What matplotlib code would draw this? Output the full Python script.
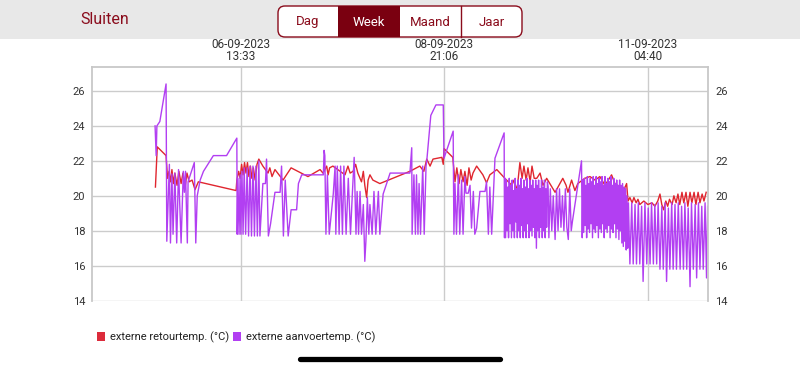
import matplotlib
matplotlib.use("Agg")
import matplotlib.pyplot as plt
import matplotlib.dates as mdates
from matplotlib.patches import Rectangle, FancyBboxPatch
import pandas as pd

plt.rcParams['font.family'] = ['Roboto', 'DejaVu Sans']

# week window, times given as hours after the start of the window
start = pd.Timestamp('2023-09-04 21:00')
end = start + pd.Timedelta(hours=168)
tick_times = [pd.Timestamp('2023-09-06 13:33'),
              pd.Timestamp('2023-09-08 21:06'),
              pd.Timestamp('2023-09-11 04:40')]
y_ticks = [14, 16, 18, 20, 22, 24, 26]

periods = ['Dag', 'Week', 'Maand', 'Jaar']
legend_labels = ['externe retourtemp. (°C)', 'externe aanvoertemp. (°C)']

retour_hours = [
    17.3, 17.8, 20.2, 20.6, 21.0, 21.4, 21.8, 22.2, 22.6, 23.2,
    23.7, 24.3, 24.8, 25.4, 25.9, 26.5, 27.3, 28.1, 29.0, 39.3,
    39.5, 40.0, 40.4, 40.8, 41.2, 41.6, 42.0, 42.4, 42.8, 43.2,
    43.6, 44.0, 44.5, 45.0, 45.5, 46.6, 48.0, 48.5, 49.1, 49.9,
    52.1, 54.3, 58.9, 62.2, 63.0, 64.0, 64.4, 64.8, 65.7, 69.0,
    69.8, 70.4, 71.2, 71.9, 72.5, 73.5, 74.0, 74.4, 74.9, 75.3,
    75.8, 76.6, 78.5, 86.7, 89.4, 90.5, 91.3, 92.2, 93.0, 95.4,
    95.8, 96.0, 98.4, 99.0, 99.5, 100.1, 100.6, 101.2, 101.7, 102.3,
    102.8, 103.4, 103.9, 104.9, 106.6, 107.6, 108.5, 110.4, 112.6, 114.5,
    115.1, 115.9, 116.7, 117.3, 117.8, 118.4, 118.9, 119.5, 120.0, 120.6,
    121.3, 122.2, 123.0, 124.0, 126.3, 127.1, 128.4, 129.3, 129.8, 130.8,
    131.7, 132.5, 134.4, 135.8, 137.2, 138.5, 139.9, 141.7, 142.6, 144.0,
    144.8, 145.8, 146.2, 146.7, 147.3, 147.8, 148.4, 148.9, 149.4, 150.5,
    151.6, 152.7, 153.5, 154.3, 154.9, 155.4, 155.9, 156.5, 157.0, 157.5,
    158.2, 158.7, 159.3, 159.8, 160.3, 160.9, 161.4, 162.0, 162.5, 163.1,
    163.6, 164.2, 164.7, 165.3, 165.8, 166.4, 166.9, 167.5,
]
retour_temp = [
    20.5, 22.8, 22.3, 21.0, 21.4, 20.8, 21.5, 20.7, 21.3, 20.6,
    21.4, 20.7, 21.3, 20.5, 21.3, 20.8, 20.9, 20.35, 20.8, 20.3,
    20.9, 21.4, 21.0, 21.8, 21.2, 21.9, 21.3, 21.9, 21.1, 21.7,
    21.0, 21.6, 20.9, 21.8, 22.1, 21.7, 21.3, 21.6, 21.1, 21.5,
    20.9, 21.6, 21.1, 21.5, 21.3, 21.7, 21.2, 21.6, 21.7, 21.2,
    21.7, 21.3, 21.4, 21.8, 21.3, 20.8, 21.4, 20.6, 19.9, 20.9,
    21.2, 20.9, 20.7, 21.4, 21.7, 21.4, 22.1, 21.7, 22.1, 22.2,
    21.8, 22.7, 22.2, 20.8, 21.6, 20.7, 21.5, 20.8, 21.4, 20.6,
    21.6, 20.9, 21.3, 21.7, 21.2, 20.75, 21.2, 21.5, 21.0, 20.6,
    20.9, 20.3, 21.9, 21.0, 21.7, 20.9, 21.6, 20.8, 21.7, 21.0,
    21.0, 21.3, 20.6, 21.0, 20.2, 20.5, 21.0, 20.6, 20.2, 20.9,
    20.3, 20.7, 21.0, 21.1, 20.9, 21.1, 20.6, 21.2, 20.7, 20.5,
    20.2, 20.7, 19.7, 19.9, 19.6, 19.9, 19.6, 19.8, 19.5, 19.7,
    19.5, 19.6, 19.4, 19.7, 20.1, 19.5, 19.2, 19.7, 19.4, 19.8,
    19.5, 20.0, 19.6, 20.1, 19.5, 20.2, 19.6, 20.2, 19.4, 20.2,
    19.6, 20.2, 19.5, 20.2, 19.6, 20.1, 19.7, 20.2,
]

aanvoer_hours = [
    17.2, 17.5, 17.7, 18.5, 20.2, 20.4, 21.1, 21.4, 21.8, 22.1,
    22.6, 23.1, 23.6, 24.3, 24.9, 25.2, 25.5, 26.0, 26.2, 27.9,
    28.3, 28.7, 29.5, 30.4, 33.1, 36.7, 39.5, 39.6, 39.8, 40.1,
    40.4, 40.6, 40.9, 41.2, 41.5, 41.9, 42.3, 42.7, 43.1, 43.5,
    43.9, 44.3, 44.7, 45.1, 45.5, 45.8, 46.6, 47.3, 47.6, 48.1,
    48.7, 49.9, 51.3, 51.7, 52.2, 52.7, 53.5, 54.3, 55.8, 56.3,
    57.2, 63.1, 63.3, 63.5, 63.8, 64.2, 64.7, 65.8, 66.3, 66.5,
    66.9, 67.4, 67.8, 68.3, 68.7, 69.3, 69.9, 70.5, 71.0, 71.5,
    72.0, 72.3, 72.7, 73.1, 73.5, 74.0, 74.4, 74.7, 75.1, 75.5,
    75.8, 76.4, 76.9, 77.4, 78.1, 78.5, 79.4, 81.3, 86.7, 87.2,
    87.3, 87.8, 88.2, 88.5, 88.9, 89.2, 89.6, 90.2, 90.6, 91.1,
    91.3, 92.4, 93.8, 95.8, 96.0, 98.5, 98.7, 99.0, 99.4, 99.9,
    100.3, 100.8, 101.2, 101.7, 102.0, 102.6, 103.1, 103.5, 104.0, 104.4,
    104.9, 105.8, 107.2, 107.6, 108.1, 108.5, 109.0, 109.9, 112.4, 112.5,
    112.6, 112.8, 113.0, 113.2, 113.4, 113.6, 113.8, 114.0, 114.2, 114.4,
    114.6, 114.8, 115.0, 115.2, 115.4, 115.6, 115.8, 116.0, 116.2, 116.4,
    116.6, 116.8, 117.0, 117.2, 117.4, 117.6, 117.8, 118.0, 118.2, 118.4,
    118.6, 118.8, 119.0, 119.2, 119.4, 119.6, 119.8, 120.0, 120.2, 120.4,
    120.6, 120.8, 121.0, 121.2, 121.4, 121.6, 121.8, 122.0, 122.2, 122.4,
    122.6, 122.8, 123.0, 123.2, 123.4, 123.6, 123.8, 124.0, 124.2, 124.4,
    124.6,
    125.0, 125.4, 125.8, 126.3, 126.7, 127.1, 127.5, 127.9, 128.3, 128.7,
    129.1, 129.5, 129.9, 130.3, 130.7, 131.0, 133.5, 133.7,
    133.9, 134.1, 134.3, 134.5, 134.7, 134.9, 135.1, 135.3, 135.5, 135.7,
    135.9, 136.1, 136.3, 136.5, 136.7, 136.9, 137.1, 137.3, 137.5, 137.7,
    137.9, 138.1, 138.3, 138.5, 138.7, 138.9, 139.1, 139.3, 139.5, 139.7,
    139.9, 140.1, 140.3, 140.5, 140.7, 140.9, 141.1, 141.3, 141.5, 141.7,
    141.9, 142.1, 142.3, 142.5, 142.7, 142.9, 143.1, 143.3, 143.5, 143.7,
    143.9, 144.1, 144.3, 144.5, 144.7, 144.9, 145.1, 145.3, 145.5, 145.7,
    145.9, 146.1,
    146.3, 146.7,
    147.2, 147.6, 148.1, 148.5, 149.0, 149.4, 149.9, 150.3, 150.8, 151.3,
    151.7, 152.2, 152.6, 153.1, 153.5, 154.0, 154.4, 154.9, 155.4, 155.8,
    156.3, 156.7, 157.2, 157.6, 158.1, 158.5, 159.0, 159.4, 159.9, 160.4,
    160.8, 161.3, 161.7, 162.2, 162.6, 163.1, 163.5, 164.0, 164.5, 164.9,
    165.4, 165.8, 166.3, 166.7, 167.2, 167.6, 167.9,
]
aanvoer_temp = [
    24.0, 22.3, 24.0, 24.25, 26.4, 17.4, 21.8, 17.3, 21.25, 17.8,
    21.3, 17.3, 21.5, 17.3, 21.4, 20.2, 21.4, 17.3, 20.8, 21.9,
    17.3, 20.0, 20.9, 21.4, 22.3, 22.3, 23.3, 17.8, 21.0, 17.8,
    21.2, 17.8, 21.4, 17.8, 21.6, 17.8, 21.6, 17.7, 21.7, 17.7,
    21.7, 17.7, 21.7, 17.7, 22.0, 17.7, 20.7, 20.7, 22.1, 17.7,
    18.4, 20.2, 20.2, 21.7, 17.7, 20.9, 17.7, 19.2, 19.2, 20.7,
    21.2, 21.2, 22.6, 22.3, 17.8, 21.2, 17.8, 20.1, 21.7, 17.8,
    21.7, 17.8, 21.7, 17.8, 21.7, 17.8, 21.0, 17.8, 20.1, 22.2,
    17.8, 20.25, 17.8, 20.25, 17.8, 19.5, 16.25, 17.4, 19.9, 17.8,
    19.5, 17.8, 20.25, 17.8, 20.25, 17.8, 20.1, 21.3, 21.3, 22.75,
    17.8, 21.2, 17.8, 21.2, 17.8, 20.7, 17.8, 21.7, 17.8, 21.7,
    22.0, 24.6, 25.2, 25.2, 22.15, 23.7, 17.8, 20.7, 17.8, 21.2,
    17.8, 20.9, 17.8, 21.1, 20.15, 20.15, 20.6, 18.15, 20.25, 17.8,
    18.15, 20.25, 20.25, 20.8, 17.8, 20.5, 17.8, 22.15, 23.6, 17.6,
    21.0, 17.6, 20.9, 18.0, 20.5, 17.6, 21.0, 18.4, 20.6, 17.6,
    20.9, 18.0, 20.3, 17.6, 21.0, 18.5, 20.4, 17.6, 20.9, 18.0,
    20.6, 17.6, 21.0, 18.3, 20.4, 17.6, 20.9, 18.0, 20.5, 17.6,
    21.0, 18.4, 20.4, 17.6, 20.9, 18.0, 20.6, 17.7, 20.9, 18.2,
    20.4, 17.6, 20.9, 17.0, 20.6, 18.0, 20.9, 17.6, 20.4, 18.2,
    20.9, 17.6, 20.5, 18.0, 20.9, 17.6, 20.4, 18.2, 20.8, 20.5,
    17.6,
    20.4, 18.0, 20.0, 17.5, 20.4, 18.0, 20.4, 18.2, 20.0, 18.0,
    20.4, 18.2, 17.5, 20.4, 18.0, 18.5, 22.0, 17.6,
    20.9, 17.9, 21.0, 18.3, 20.6, 17.6, 21.1, 18.1, 20.7, 17.9,
    21.0, 18.4, 20.8, 17.6, 21.1, 18.1, 20.6, 17.9, 21.1, 18.3,
    20.7, 17.6, 21.0, 18.1, 20.8, 17.9, 21.1, 18.4, 20.6, 17.6,
    21.1, 18.1, 20.7, 17.9, 21.0, 18.3, 20.8, 17.6, 21.1, 18.1,
    20.6, 17.9, 21.0, 18.4, 20.7, 17.6, 20.9, 18.1, 20.6, 17.5,
    20.9, 18.0, 20.6, 17.3, 20.7, 17.1, 20.5, 17.4, 20.4, 16.9,
    20.0, 17.0,
    19.6, 16.1,
    19.6, 16.1, 19.5, 16.1, 19.6, 16.1, 19.4, 15.1, 19.6, 16.1,
    19.3, 16.1, 19.6, 16.1, 19.5, 16.1, 19.6, 15.8, 19.4, 15.8,
    19.6, 15.1, 19.3, 15.8, 19.6, 15.8, 19.5, 15.8, 19.6, 15.8,
    19.4, 15.8, 19.6, 15.8, 19.3, 14.8, 19.6, 15.8, 19.5, 15.3,
    19.6, 15.8, 19.4, 15.8, 19.6, 15.3, 19.4,
]

RED = '#e0262f'
PURPLE = '#b23ff2'
MAROON = '#8a0c1c'

retour_t = start + pd.to_timedelta(retour_hours, unit='h')
aanvoer_t = start + pd.to_timedelta(aanvoer_hours, unit='h')

fig = plt.figure(figsize=(8, 3.69), dpi=100)

# app chrome (header, period switch, legend, home bar) in pixel coordinates
ui = fig.add_axes([0, 0, 1, 1])
ui.set_xlim(0, 800)
ui.set_ylim(369, 0)
ui.axis('off')
ui.add_patch(Rectangle((0, 0), 800, 39, color='#e8e8e8', lw=0))
ui.text(80, 20, 'Sluiten', color=MAROON, fontsize=11.5, va='center', ha='left')
ui.add_patch(FancyBboxPatch((278, 6), 244, 31, boxstyle='round,pad=0,rounding_size=7',
                            fc='white', ec=MAROON, lw=1))
ui.add_patch(Rectangle((338, 6), 62, 31, fc='#7a0010', lw=0))
ui.plot([461, 461], [6, 37], color=MAROON, lw=1)
for name, cx in zip(periods, [308, 369, 430, 491.5]):
    ui.text(cx, 22, name, ha='center', va='center', fontsize=9.5,
            color='white' if name == 'Week' else MAROON)

ui.add_patch(Rectangle((97, 332), 8, 9, fc='#dc2b3b', lw=0))
ui.text(110, 337, legend_labels[0], va='center', fontsize=8, color='#222222')
ui.add_patch(Rectangle((233, 332), 8, 9, fc=PURPLE, lw=0))
ui.text(246, 337, legend_labels[1], va='center', fontsize=8, color='#222222')
ui.plot([300, 500], [359, 359], color='black', lw=3.8, solid_capstyle='round')

ax = fig.add_axes([92 / 800, 68 / 369, 616 / 800, 234 / 369])
ax.plot(retour_t, retour_temp, color=RED, lw=1.0)
ax.plot(aanvoer_t, aanvoer_temp, color=PURPLE, lw=1.0)

ax.set_xlim(start, end)
ax.set_ylim(13.98, 27.37)
ax.set_yticks(y_ticks)
ax.set_xticks(tick_times)
ax.xaxis.set_major_formatter(mdates.DateFormatter('%d-%m-%Y\n%H:%M'))
ax.xaxis.tick_top()
ax.tick_params(axis='x', length=0, pad=3, labelsize=8.5, colors='#333333')
ax.tick_params(axis='y', length=0, pad=5, labelsize=8, colors='#333333',
               labelleft=True, labelright=True)
for lbl in ax.get_xticklabels():
    lbl.set_linespacing(0.9)
ax.grid(True, color='#cccccc', lw=1)
ax.set_axisbelow(True)
for side in ['left', 'right', 'top']:
    ax.spines[side].set_color('#c8c8c8')
    ax.spines[side].set_linewidth(1.3)
ax.spines['bottom'].set_visible(False)

fig.savefig('out.png', dpi=100)
